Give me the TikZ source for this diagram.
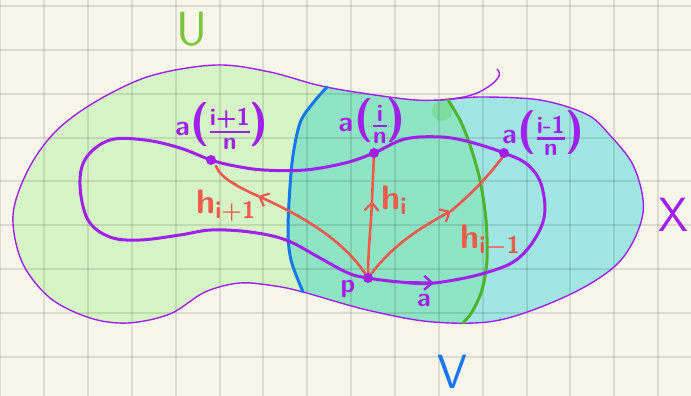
\RequirePackage{fix-cm}
\documentclass[tikz,border=0pt]{standalone}
\usetikzlibrary{arrows.meta}
\definecolor{paper}{HTML}{F8F6EA}
\definecolor{ufill}{HTML}{D5F5C6}
\definecolor{vfill}{HTML}{A1E6E4}
\definecolor{uvfill}{HTML}{8FE4C5}
\definecolor{blob}{HTML}{7EDCA0}
\definecolor{purp}{HTML}{A020F0}
\definecolor{redc}{HTML}{F45A4C}
\definecolor{bluec}{HTML}{1478F0}
\definecolor{greenc}{HTML}{4DB52B}
\definecolor{ugreen}{HTML}{7CC43A}
\newcommand{\fracbox}[2]{$\vcenter{\hbox{${\hbox{\fontsize{24}{24}\selectfont #1}\above2.6pt\hbox{\fontsize{24}{24}\selectfont #2}}$}}$}
\newcommand{\alab}[2]{\fontsize{28}{28}\selectfont a\kern1pt{\fontsize{44}{44}\selectfont(}\kern-1pt\fracbox{#1}{#2}\kern-1pt{\fontsize{44}{44}\selectfont)}}
\begin{document}
\begin{tikzpicture}[x=1pt,y=-1pt,
  gridline/.style={black,opacity=0.1,line width=2pt},
  outl/.style={purp,line width=1.4pt},
  loopc/.style={purp,line width=3pt,line cap=round,line join=round},
  harrow/.style={redc,line width=2.6pt,line cap=round},
  tip/.style={-{Straight Barb[length=8pt,width=14pt,line width=2.2pt]}},
  dotc/.style={circle,fill=purp,inner sep=0pt,minimum size=10pt},
  plab/.style={text=purp,font=\fontsize{26}{28}\selectfont\sffamily\bfseries\boldmath,inner sep=0pt},
  hlab/.style={text=redc,font=\fontsize{34}{36}\selectfont\sffamily\bfseries\boldmath,inner sep=0pt},
  big/.style={font=\fontsize{48}{50}\selectfont\sffamily,inner sep=0pt}]
\useasboundingbox (0,0) rectangle (691,396);
\fill[paper] (0,0) rectangle (691,396);
% outline of X
\path[save path=\outlinepath] plot[smooth cycle, tension=0.55] coordinates {
 (216,65) (150,76) (95,102) (55,132) (28,170) (13,215) (22,262) (50,298)
 (90,318) (128,323) (170,314) (205,292) (240,283) (275,286) (303,292)
 (367,310) (433,322) (500,320) (573,293) (621,260) (643,213) (634,167)
 (608,133) (586,114) (540,100) (480,97) (440,100) (405,99) (326,87) (270,72)};
\begin{scope}
  \clip[use path=\outlinepath];
  \fill[ufill] (0,0) rectangle (691,396);
  % V: right of the blue line
  \fill[vfill] plot[smooth] coordinates {(327,87) (313,103) (300,123) (292,163) (288,227) (291,260) (303,292)}
     -- (303,396) -- (691,396) -- (691,0) -- (327,0) -- cycle;
  % U and V: between the blue and the green line
  \fill[uvfill] plot[smooth] coordinates {(327,87) (313,103) (300,123) (292,163) (288,227) (291,260) (303,292)}
     -- (303,396) -- (463,396) --
     plot[smooth] coordinates {(463,323) (472,312) (482,290) (487,260) (486,220) (480,180) (470,145) (460,120) (448,100)}
     -- (448,0) -- (327,0) -- cycle;
  \fill[blob] (442,111) circle (10pt);
\end{scope}
% grid
\foreach \i in {0,...,15} \draw[gridline] (0.3+43.85*\i,0) -- (0.3+43.85*\i,396);
\foreach \j in {0,...,9} \draw[gridline] (0,6+43.85*\j) -- (691,6+43.85*\j);
% outline
\draw[outl, use path=\outlinepath];
\draw[outl] plot[smooth, tension=0.7] coordinates {(440,100) (468,96) (488,87) (499,76) (497,69)};
% lines bounding V and U
\draw[bluec,line width=3pt,line cap=round] plot[smooth] coordinates {(327,87) (313,103) (300,123) (292,163) (288,227) (291,260) (303,292)};
\draw[greenc,line width=3pt,line cap=round] plot[smooth] coordinates {(448,100) (460,120) (470,145) (480,180) (486,220) (487,260) (482,290) (472,312) (463,323)};
% points
\coordinate (p) at (368,278);
\coordinate (ap) at (211,160);
\coordinate (ai) at (374,153);
\coordinate (am) at (504,153);
% loop a
\draw[loopc] plot[smooth cycle, tension=0.6] coordinates {
 (368,278) (400,282) (434,283) (485,273) (520,257) (543,222) (542,187)
 (528,165) (504,153) (470,142) (441,137) (405,139) (374,153) (345,163)
 (305,170) (264,170) (235,166) (211,160) (180,148) (145,140) (110,140)
 (86,158) (80,185) (88,220) (110,237) (140,240) (180,235) (211,230)
 (250,232) (286,240) (320,258) (348,273)};
\coordinate (ta) at (434,283);
\draw[purp,line width=3pt,-{Straight Barb[length=8pt,width=14pt,line width=2.4pt]}] (405,282.5) -- (ta);
% red arrows
\coordinate (t1) at (258,196);
\coordinate (t2) at (372,201);
\coordinate (t3) at (451,211);
\draw[harrow,tip] (p) .. controls (345,240) and (300,215) .. (t1);
\draw[harrow] (t1) .. controls (240,188) and (220,178) .. (216,166);
\draw[harrow,tip] (p) .. controls (368,250) and (371,225) .. (t2);
\draw[harrow] (t2) -- (ai);
\draw[harrow,tip] (p) .. controls (392,245) and (420,228) .. (t3);
\draw[harrow] (t3) .. controls (470,195) and (485,180) .. (502,158);
% dots
\node[dotc] (dp) at (p) {};
\node[dotc] (dap) at (ap) {};
\node[dotc] (dai) at (ai) {};
\node[dotc] (dam) at (am) {};
% labels
\node[plab] (lap) at (222,126) {\alab{i+1}{n}};
\node[plab] (lai) at (372,121) {\alab{i}{n}};
\node[plab] (lam) at (543,133) {\alab{i-1}{n}};
\node[hlab,anchor=base west] (hp) at (196,213) {h$_{\mathsf{i{+}1}}$};
\node[hlab,anchor=base west] (hi) at (381,209) {h$_{\mathsf{i}}$};
\node[hlab,anchor=base west] (hm) at (460,248) {h$_{\mathsf{i{-}1}}$};
\node[plab,anchor=base] (lp) at (348,292) {p};
\node[plab,anchor=base] (la) at (424,306) {a};
\node[big,text=ugreen] (lu) at (192,29) {U};
\node[big,text=bluec,anchor=base] (lv) at (452,388) {V};
\node[big,text=purp] (lx) at (673,215) {X};
\end{tikzpicture}
\end{document}
